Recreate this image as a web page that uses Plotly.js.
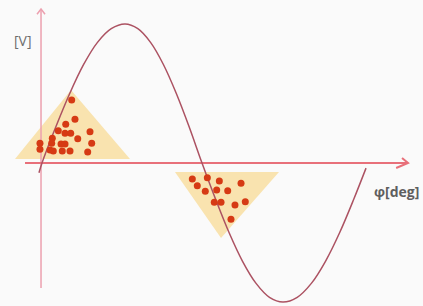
<!DOCTYPE html>
<html>
<head>
<meta charset="utf-8">
<script src="https://cdn.plot.ly/plotly-3.0.1.min.js"></script>
<style>html,body{margin:0;padding:0;background:#fafafa;}#chart{width:423px;height:306px;}</style>
</head>
<body>
<div id="chart"></div>
<script>
// Phase (deg) and voltage (V, normalised amplitude)
var curvePhase = [-3.4, 0, 15.5, 31.2, 46.7, 62.2, 77.9, 93.4, 107.8, 122.3, 136.7, 151.1, 165.6, 180,
                  195.2, 210.4, 225.6, 240.8, 255.9, 271.1, 287.1, 303.0, 318.9, 334.9, 350.8, 364.5];
var curveVolt  = [-0.07, 0, 0.259, 0.5, 0.707, 0.866, 0.966, 1.0, 0.966, 0.866, 0.707, 0.5, 0.259, 0,
                  -0.259, -0.5, -0.707, -0.866, -0.966, -1.0, -0.966, -0.866, -0.707, -0.5, -0.259, -0.037];

// Highlight triangles
var tri1Phase = [-30.4, 32.6, 99.0, -30.4];
var tri1Volt  = [0.029, 0.525, 0.029, 0.029];
var tri2Phase = [149.6, 266.6, 201.4, 149.6];
var tri2Volt  = [-0.065, -0.065, -0.540, -0.065];

// Sample dots
var dots1Phase = [33.4, 37.1, 26.7, 18.3, 25.9, 32.3, 54.0, 11.6, 40.2, -2.3, 10.9, 21.4, 25.9, 55.9, -2.3, 9.0, 12.7, 22.8, 31.5, 51.4];
var dots1Volt  = [0.453, 0.314, 0.278, 0.232, 0.214, 0.214, 0.225, 0.178, 0.175, 0.142, 0.142, 0.137, 0.137, 0.142, 0.099, 0.094, 0.086, 0.086, 0.086, 0.079];
var dots2Phase = [169.1, 186.0, 199.5, 223.9, 174.7, 183.7, 196.5, 208.9, 193.8, 201.4, 217.1, 228.7, 212.6];
var dots2Volt  = [-0.115, -0.106, -0.129, -0.146, -0.163, -0.204, -0.194, -0.199, -0.283, -0.283, -0.302, -0.278, -0.405];

// Hand-drawn axes with open arrow heads
var xAxisPhase = [-19.1, 411.75, null, 405, 411.75, 398.4];
var xAxisVolt  = [0, 0, null, 0.036, 0, -0.036];
var yAxisPhase = [-1.1, -1.1, null, -5.6, -1.1, 3.4];
var yAxisVolt  = [-0.899, 1.108, null, 1.07, 1.108, 1.07];

var axisLabels = ['[V]', 'φ[deg]'];

var traces = [
  {x: tri1Phase, y: tri1Volt, mode: 'lines', fill: 'toself', fillcolor: 'rgba(248,224,166,0.9)', line: {width: 0}, hoverinfo: 'skip'},
  {x: tri2Phase, y: tri2Volt, mode: 'lines', fill: 'toself', fillcolor: 'rgba(248,224,166,0.9)', line: {width: 0}, hoverinfo: 'skip'},
  {x: yAxisPhase, y: yAxisVolt, mode: 'lines', line: {color: 'rgb(236,160,175)', width: 1.5}},
  {x: xAxisPhase, y: xAxisVolt, mode: 'lines', line: {color: 'rgb(232,112,122)', width: 2}},
  {x: curvePhase, y: curveVolt, mode: 'lines', line: {color: 'rgb(172,82,98)', width: 1.5, shape: 'spline', smoothing: 1}},
  {x: dots1Phase, y: dots1Volt, mode: 'markers', marker: {color: 'rgb(214,58,20)', size: 7}},
  {x: dots2Phase, y: dots2Volt, mode: 'markers', marker: {color: 'rgb(214,58,20)', size: 7}}
];

var layout = {
  width: 423, height: 306,
  margin: {l: 0, r: 0, t: 0, b: 0},
  paper_bgcolor: '#fafafa', plot_bgcolor: '#fafafa',
  showlegend: false,
  xaxis: {range: [-47.25, 428.6], visible: false, showgrid: false, zeroline: false},
  yaxis: {range: [-1.0288, 1.1727], visible: false, showgrid: false, zeroline: false},
  annotations: [
    {text: axisLabels[0], xref: 'paper', yref: 'paper', x: 12/423, y: (306-41)/306, xanchor: 'left', yanchor: 'middle',
     showarrow: false, font: {family: 'Open Sans, DejaVu Sans, sans-serif', size: 14, color: 'rgb(110,110,110)'}},
    {text: '<b>' + axisLabels[1] + '</b>', xref: 'paper', yref: 'paper', x: 421/423, y: (306-191)/306, xanchor: 'right', yanchor: 'middle',
     showarrow: false, font: {family: 'Open Sans, DejaVu Sans, sans-serif', size: 14, color: 'rgb(95,95,95)'}}
  ]
};

Plotly.newPlot('chart', traces, layout, {staticPlot: true, displayModeBar: false});
</script>
</body>
</html>
